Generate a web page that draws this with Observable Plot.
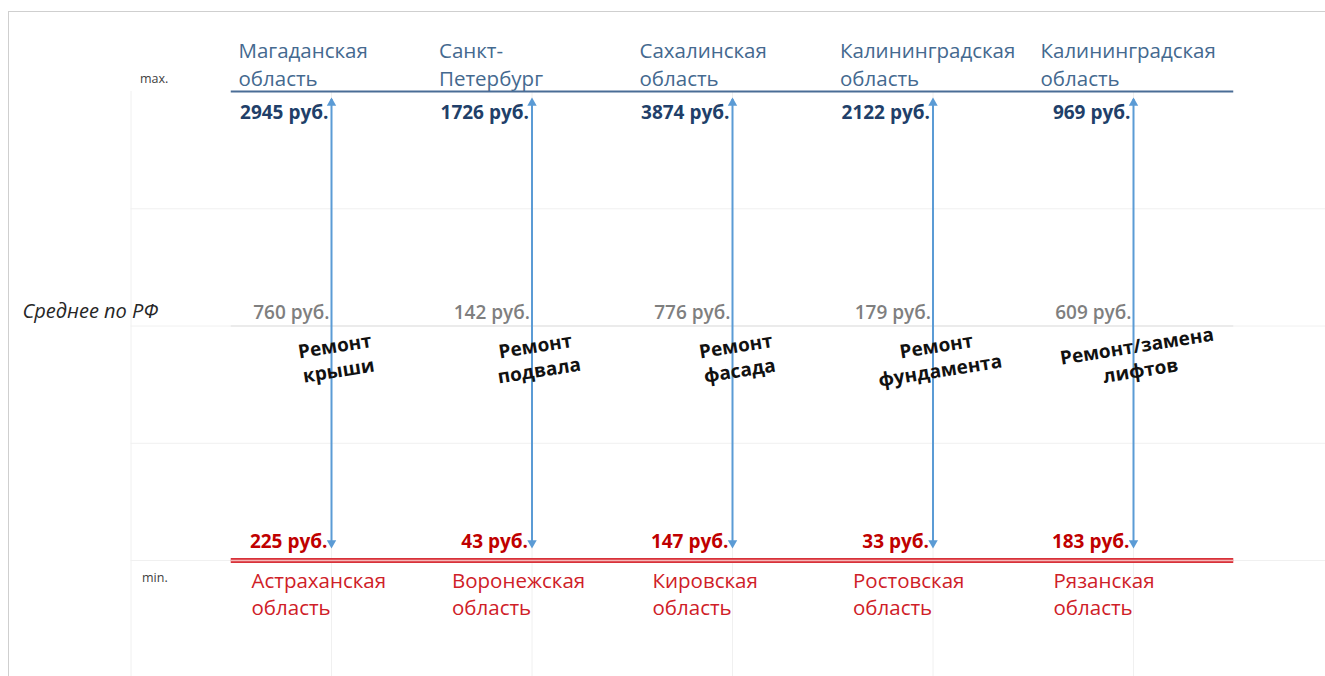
<!DOCTYPE html>
<html><head><meta charset="utf-8">
<script src="https://cdn.jsdelivr.net/npm/d3@7"></script>
<script src="https://cdn.jsdelivr.net/npm/@observablehq/plot@0.6"></script>
<style>
html,body{margin:0;padding:0;background:#fff;overflow:hidden;}
#wrap{position:relative;width:1325px;height:676px;}
#frame{position:absolute;left:8px;top:11px;right:0;bottom:0;border-top:1px solid #cfcfcf;border-left:1px solid #cfcfcf;pointer-events:none;}
</style></head><body><div id="wrap"><div id="chart"></div><div id="frame"></div></div>
<script>
// ---- data ----
const works = ["Ремонт крыши", "Ремонт подвала", "Ремонт фасада", "Ремонт фундамента", "Ремонт/замена лифтов"];
const maxRegions = ["Магаданская область", "Санкт-Петербург", "Сахалинская область", "Калининградская область", "Калининградская область"];
const maxValues = [2945, 1726, 3874, 2122, 969];
const avgValues = [760, 142, 776, 179, 609];
const minValues = [225, 43, 147, 33, 183];
const minRegions = ["Астраханская область", "Воронежская область", "Кировская область", "Ростовская область", "Рязанская область"];
const avgLabel = "Среднее по РФ";
const maxLabel = "max.";
const minLabel = "min.";
const unit = "руб.";

// schematic levels (min line, average line, max line) and grid levels
const LEVEL = {min: 0, avg: 2, max: 4};
const gridY = [0, 1, 2, 3];
const gridX = [-1, 0, 1, 2, 3, 4];

const wrap = s => s.replace(/-(?=\S)/, "-\n").replace(" ", "\n");
const rub = v => `${v} ${unit}`;

const rows = works.map((w, i) => ({
  i, work: w, maxRegion: maxRegions[i], maxValue: maxValues[i],
  avg: avgValues[i], min: minValues[i], minRegion: minRegions[i]
}));

const font = "'Open Sans', 'Noto Sans', sans-serif";
const arrowBlue = "#5b9bd5";
const span = {x1: -0.5, x2: 4.5};

const chart = Plot.plot({
  width: 1325, height: 676, margin: 0,
  x: {type: "linear", domain: [0, 4], range: [331, 1133], axis: null},
  y: {type: "linear", domain: [0, 4], range: [560, 91], axis: null},
  style: {fontFamily: font, background: "transparent", overflow: "hidden"},
  marks: [
    // light grid
    Plot.ruleY(gridY, {y: d => d, x1: -1, x2: 5, stroke: "#f0f0f0", strokeWidth: 1}),
    Plot.ruleX(gridX, {x: d => d, y1: -1, y2: LEVEL.max, stroke: "#f0f0f0", strokeWidth: 1}),
    // average, max, min lines
    Plot.ruleY([LEVEL.avg], {y: d => d, ...span, stroke: "#ebebeb", strokeWidth: 2}),
    Plot.ruleY([LEVEL.max], {y: d => d, ...span, stroke: "#4a6d96", strokeWidth: 2}),
    Plot.ruleY([LEVEL.min], {y: d => d, ...span, stroke: "#d8323a", strokeWidth: 5}),
    Plot.ruleY([LEVEL.min], {y: d => d, ...span, stroke: "#f6b8b8", strokeWidth: 1.3}),
    // double-headed arrows
    Plot.ruleX(rows, {x: "i", y1: LEVEL.max, y2: LEVEL.min, insetTop: 8, insetBottom: 15, stroke: arrowBlue, strokeWidth: 2}),
    Plot.dot(rows, {x: "i", y: LEVEL.max, dy: 11.5, symbol: "triangle", r: 3.5, fill: arrowBlue, stroke: "none"}),
    Plot.dot(rows, {x: "i", y: LEVEL.min, dy: -17.5, symbol: "triangle", rotate: 180, r: 3.5, fill: arrowBlue, stroke: "none"}),
    // side labels
    Plot.text([maxLabel], {text: d => d, x: -1, y: LEVEL.max, dx: 9, dy: -13, textAnchor: "start", lineAnchor: "middle", fontSize: 12.5, fill: "#404040"}),
    Plot.text([minLabel], {text: d => d, x: -1, y: LEVEL.min, dx: 11, dy: 17, textAnchor: "start", lineAnchor: "middle", fontSize: 12.5, fill: "#404040"}),
    Plot.text([avgLabel], {text: d => d, frameAnchor: "left", y: LEVEL.avg, dx: 22, dy: -14, textAnchor: "start", lineAnchor: "middle", fontSize: 20, fontStyle: "italic", fill: "#262626"}),
    // max regions & values
    Plot.text(rows, {x: "i", y: LEVEL.max, text: d => wrap(d.maxRegion), textAnchor: "start", lineAnchor: "bottom", dx: -93, dy: -6, fontSize: 20.5, lineHeight: 1.32, fill: "#44698f"}),
    Plot.text(rows, {x: "i", y: LEVEL.max, text: d => rub(d.maxValue), textAnchor: "end", lineAnchor: "bottom", dx: -3, dy: 27, fontSize: 19, fontWeight: 700, fill: "#213f69"}),
    // averages
    Plot.text(rows, {x: "i", y: LEVEL.avg, text: d => rub(d.avg), textAnchor: "end", lineAnchor: "bottom", dx: -2, dy: -7, fontSize: 19, fontWeight: 600, fill: "#7f7f7f"}),
    // work names
    Plot.text(rows, {x: "i", y: LEVEL.avg, text: d => wrap(d.work), textAnchor: "middle", lineAnchor: "middle", dx: 5, dy: 31, rotate: -9, fontSize: 19, fontWeight: 700, lineHeight: 1.3, fill: "#111"}),
    // min values & regions
    Plot.text(rows, {x: "i", y: LEVEL.min, text: d => rub(d.min), textAnchor: "end", lineAnchor: "bottom", dx: -4, dy: -13, fontSize: 19, fontWeight: 700, fill: "#c00000"}),
    Plot.text(rows, {x: "i", y: LEVEL.min, text: d => wrap(d.minRegion), textAnchor: "start", lineAnchor: "top", dx: -80, dy: 9, fontSize: 20.5, lineHeight: 1.3, fill: "#cf2027"})
  ]
});
document.getElementById("chart").appendChild(chart);
</script></body></html>
